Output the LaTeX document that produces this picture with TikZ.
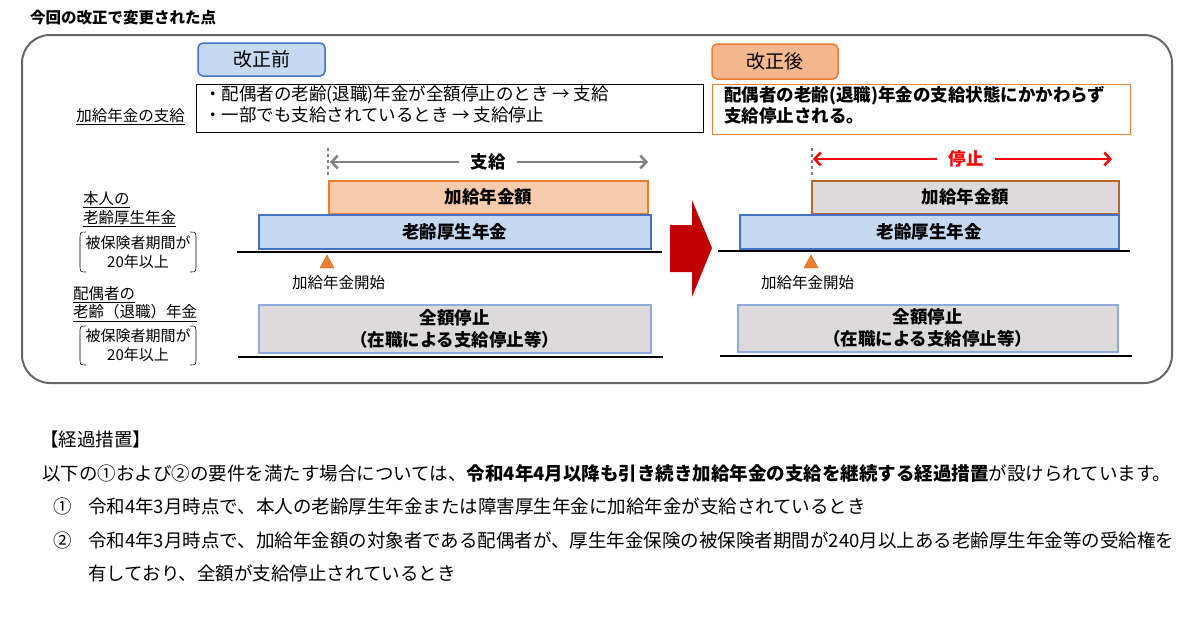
\documentclass[tikz,border=0pt]{standalone}
\usepackage{fontspec}
\setmainfont{Noto Sans CJK JP}
\usetikzlibrary{arrows.meta}
\definecolor{blueF}{HTML}{C5D9F1}
\definecolor{blueB}{HTML}{4472C4}
\definecolor{oraF}{HTML}{F8CBAD}
\definecolor{oraB}{HTML}{ED7D31}
\definecolor{grayF}{HTML}{DCDADA}
\definecolor{redA}{HTML}{C00000}
\tikzset{
 fs/.style={font=\fontsize{#1}{20}\selectfont},
 bar/.style={draw, line width=1.5pt, inner sep=0pt, align=center, font=\fontsize{17.5}{22}\selectfont\bfseries},
 bluebar/.style={bar, fill=blueF, draw=blueB},
 orabar/.style={bar, fill=oraF, draw=oraB},
 graybar/.style={bar, fill=grayF, draw=blueB!60},
 base/.style={line width=2pt},
 tri/.style={fill=oraB, draw=oraB!80!black, line width=0.4pt},
 lbl/.style={fs=15.5, anchor=west, inner sep=0pt},
}
\begin{document}
\begin{tikzpicture}[x=1pt,y=-1pt]
\useasboundingbox (0,0) rectangle (1197,622);
\node[anchor=west, inner sep=0pt, font=\fontsize{15.5}{17}\selectfont\bfseries] (title) at (30,18) {今回の改正で変更された点};
\draw[line width=2pt, draw=gray!80!black, rounded corners=28pt] (22,35) rectangle (1172,383);
% before header
\node[draw=blueB, line width=1.5pt, fill=blueF, rounded corners=5pt, minimum width=127pt, minimum height=33pt, fs=19] (bef) at (261.5,59.5) {改正前};
\node[draw, line width=1pt, minimum width=507pt, minimum height=48pt, anchor=north west] (befbox) at (196,84) {};
\node[anchor=north west, font=\fontsize{17.5}{21}\selectfont, align=left, inner sep=0pt] (beft) at (204,85) {・配偶者の老齢(退職)年金が全額停止のとき → 支給\\・一部でも支給されているとき → 支給停止};
\node[lbl, anchor=east] (kyu) at (185,117) {\underline{加給年金の支給}};
% after header
\node[draw=oraB, line width=1.5pt, fill=oraB!55!white, rounded corners=5pt, minimum width=126pt, minimum height=35pt, fs=19] (aft) at (775,61.5) {改正後};
\node[draw=oraB, line width=1pt, minimum width=418pt, minimum height=50pt, anchor=north west] (aftbox) at (712,84) {};
\node[anchor=north west, font=\fontsize{17.5}{21}\selectfont\bfseries, align=left, inner sep=0pt] (aftt) at (724,86) {配偶者の老齢(退職)年金の支給状態にかかわらず\\支給停止される。};
% left labels
\node[lbl] (l1) at (83,200) {\underline{本人の}};
\node[lbl] (l2) at (83,219) {\underline{老齢厚生年金}};
\node[font=\fontsize{15}{19}\selectfont, align=center, inner sep=0pt] (l3) at (138,252) {被保険者期間が\\20年以上};
\draw[line width=0.6pt] (86,232) .. controls (80,232) and (80,232) .. (80,240) -- (80,264) .. controls (80,272) and (80,272) .. (86,272);
\draw[line width=0.6pt] (190,232) .. controls (196,232) and (196,232) .. (196,240) -- (196,264) .. controls (196,272) and (196,272) .. (190,272);
\node[lbl] (m1) at (73,295) {\underline{配偶者の}};
\node[lbl] (m2) at (73,313) {\underline{老齢（退職）年金}};
\node[font=\fontsize{15}{19}\selectfont, align=center, inner sep=0pt] (m3) at (138,345) {被保険者期間が\\20年以上};
\draw[line width=0.6pt] (86,326) .. controls (80,326) and (80,326) .. (80,334) -- (80,357) .. controls (80,365) and (80,365) .. (86,365);
\draw[line width=0.6pt] (190,326) .. controls (196,326) and (196,326) .. (196,334) -- (196,357) .. controls (196,365) and (196,365) .. (190,365);
% before diagram
\draw[dashed, gray, line width=1.2pt] (328,148) -- (328,178);
\node[font=\fontsize{17.5}{19}\selectfont\bfseries] (shk) at (488,162) {支給};
\coordinate (gL) at (330,162); \coordinate (gR) at (648,162);
\draw[gray, line width=2.5pt, -{Straight Barb[length=6pt,width=13pt]}] (shk.west) ++(-8,0) -- (gL);
\draw[gray, line width=2.5pt, -{Straight Barb[length=6pt,width=13pt]}] (shk.east) ++(8,0) -- (gR);
\node[orabar, minimum width=319pt, minimum height=33pt, anchor=north west] (ka1) at (328,180) {加給年金額};
\node[bluebar, minimum width=392pt, minimum height=34pt, anchor=north west] (ro1) at (258,214) {老齢厚生年金};
\draw[base] (237,252) -- (662,252);
\draw[tri] (320,268) -- (327,255) -- (334,268) -- cycle;
\node[lbl] (st1) at (292,283) {加給年金開始};
\node[graybar, minimum width=392pt, minimum height=48pt, anchor=north west] (ze1) at (258,304) {全額停止\\（在職による支給停止等）};
\draw[base] (238,357) -- (663,357);
% big red arrow
\fill[redA] (670,225) -- (692,225) -- (692,200) -- (712,248) -- (692,297) -- (692,272) -- (670,272) -- cycle;
% after diagram
\draw[dashed, gray, line width=1.2pt] (812,148) -- (812,178);
\node[text=red, font=\fontsize{17.5}{19}\selectfont\bfseries] (tei) at (966,159) {停止};
\coordinate (rL) at (813,159); \coordinate (rR) at (1112,159);
\draw[red, line width=2.5pt, -{Straight Barb[length=6pt,width=13pt]}] (tei.west) ++(-8,0) -- (rL);
\draw[red, line width=2.5pt, -{Straight Barb[length=6pt,width=13pt]}] (tei.east) ++(8,0) -- (rR);
\node[graybar, draw=oraB!80!black, minimum width=307pt, minimum height=33pt, anchor=north west] (ka2) at (811,180) {加給年金額};
\node[bluebar, minimum width=379pt, minimum height=34pt, anchor=north west] (ro2) at (739,214) {老齢厚生年金};
\draw[base] (718,251) -- (1130,251);
\draw[tri] (804,268) -- (811,255) -- (818,268) -- cycle;
\node[lbl] (st2) at (761,283) {加給年金開始};
\node[graybar, minimum width=380pt, minimum height=47pt, anchor=north west] (ze2) at (737,304) {全額停止\\（在職による支給停止等）};
\draw[base] (720,356) -- (1132,356);
% bottom text
\node[lbl, fs=18.5] (kk) at (40,439) {【経過措置】};
\node[lbl, fs=18.5] (p0) at (42,473) {以下の①および②の要件を満たす場合については、\textbf{令和4年4月以降も引き続き加給年金の支給を継続する経過措置}が設けられています。};
\node[lbl, fs=18.5] (n1) at (53,506) {①};
\node[lbl, fs=18.5] (p1) at (88,506) {令和4年3月時点で、本人の老齢厚生年金または障害厚生年金に加給年金が支給されているとき};
\node[lbl, fs=18.5] (n2) at (53,540) {②};
\node[lbl, fs=18.5] (p2) at (88,540) {令和4年3月時点で、加給年金額の対象者である配偶者が、厚生年金保険の被保険者期間が240月以上ある老齢厚生年金等の受給権を};
\node[lbl, fs=18.5] (p3) at (88,573) {有しており、全額が支給停止されているとき};
\end{tikzpicture}
\end{document}
